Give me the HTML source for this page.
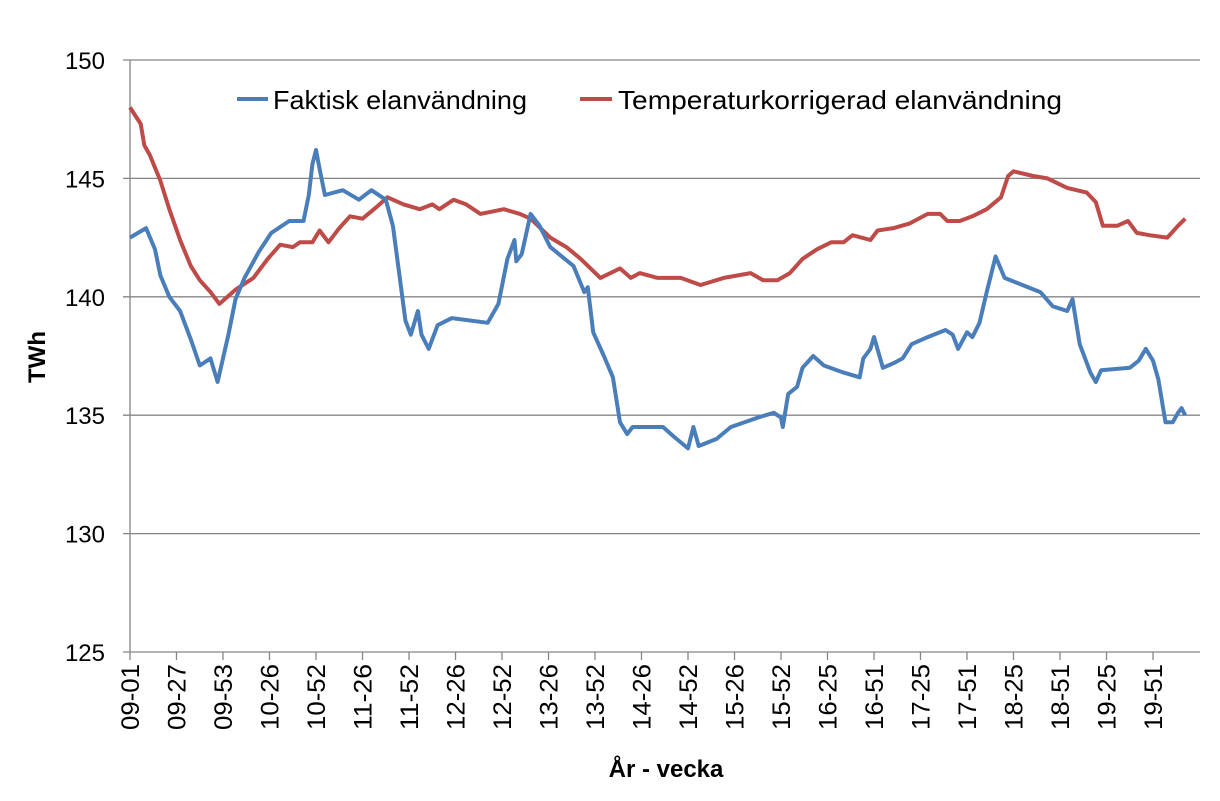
<!DOCTYPE html>
<html><head><meta charset="utf-8"><style>
body{margin:0;background:#fff;}
svg text{font-family:"Liberation Sans",sans-serif;fill:#000;}
</style></head><body>
<svg id="chart" width="1220" height="796" viewBox="0 0 1220 796" xmlns="http://www.w3.org/2000/svg">
<g id="grid"></g>
<g id="yaxis"></g>
<g id="xaxis"></g>
<g id="series"></g>
<text x="0" y="0" transform="translate(45,357) rotate(-90)" text-anchor="middle" font-size="24" font-weight="bold">TWh</text>
<text x="666" y="777" text-anchor="middle" font-size="24" font-weight="bold">År - vecka</text>
<g>
<line x1="237" y1="99" x2="268" y2="99" stroke="#4a7ebb" stroke-width="4"/>
<text x="273" y="109" font-size="26" textLength="254" lengthAdjust="spacingAndGlyphs">Faktisk elanvändning</text>
<line x1="580" y1="99" x2="612" y2="99" stroke="#be4b48" stroke-width="4"/>
<text x="618" y="109" font-size="26" textLength="444" lengthAdjust="spacingAndGlyphs">Temperaturkorrigerad elanvändning</text>
</g>
</svg>
<script>
const yTicks=[125,130,135,140,145,150];
const xTickLabels=["09-01","09-27","09-53","10-26","10-52","11-26","11-52","12-26","12-52","13-26","13-52","14-26","14-52","15-26","15-52","16-25","16-51","17-25","17-51","18-25","18-51","19-25","19-51"];
const faktiskWeeks=[0,9,14,17,22,28,34,39,45,49,55,59,64,72,79,89,97,100,102,104,106,109,119,128,135,143,147,151,154,157,161,163,167,172,180,200,206,211,215,216,219,224,229,235,248,254,256,259,265,270,274,278,281,298,304,312,315,318,328,336,351,360,364,365,368,373,376,382,388,399,408,410,414,416,421,427,432,437,446,456,460,463,468,471,475,479,484,489,499,509,516,524,527,531,537,540,543,559,564,568,572,575,579,583,586,588,590];
const faktiskValues=[142.5,142.9,142.0,140.9,140.0,139.4,138.2,137.1,137.4,136.4,138.4,139.9,140.8,141.9,142.7,143.2,143.2,144.3,145.6,146.2,145.4,144.3,144.5,144.1,144.5,144.1,143.0,140.7,139.0,138.4,139.4,138.4,137.8,138.8,139.1,138.9,139.7,141.6,142.4,141.5,141.8,143.5,143.0,142.1,141.3,140.2,140.4,138.5,137.5,136.6,134.7,134.2,134.5,134.5,134.1,133.6,134.5,133.7,134.0,134.5,134.9,135.1,134.9,134.5,135.9,136.2,137.0,137.5,137.1,136.8,136.6,137.4,137.8,138.3,137.0,137.2,137.4,138.0,138.3,138.6,138.4,137.8,138.5,138.3,138.9,140.2,141.7,140.8,140.5,140.2,139.6,139.4,139.9,138.0,136.8,136.4,136.9,137.0,137.3,137.8,137.3,136.5,134.7,134.7,135.1,135.3,135.0];
const tempWeeks=[0,6,8,11,17,22,28,34,39,45,50,59,69,77,84,91,95,102,106,111,117,123,130,138,144,153,162,169,173,181,188,196,209,218,224,235,244,252,263,274,280,285,295,308,319,332,347,354,362,369,376,384,392,399,404,414,418,427,436,446,453,457,464,471,479,487,491,494,505,513,524,535,540,544,552,558,563,570,580,586,590];
const tempValues=[148.0,147.3,146.4,146.0,144.9,143.7,142.4,141.3,140.7,140.2,139.7,140.3,140.8,141.6,142.2,142.1,142.3,142.3,142.8,142.3,142.9,143.4,143.3,143.8,144.2,143.9,143.7,143.9,143.7,144.1,143.9,143.5,143.7,143.5,143.3,142.5,142.1,141.6,140.8,141.2,140.8,141.0,140.8,140.8,140.5,140.8,141.0,140.7,140.7,141.0,141.6,142.0,142.3,142.3,142.6,142.4,142.8,142.9,143.1,143.5,143.5,143.2,143.2,143.4,143.7,144.2,145.1,145.3,145.1,145.0,144.6,144.4,144.0,143.0,143.0,143.2,142.7,142.6,142.5,143.0,143.3];

const X0=130,X1=1200,Y0=60,Y1=652,WEEK_PX=46.5/26,TICK_STEP=26;
const xs=w=>X0+w*WEEK_PX;
const ys=v=>Y1-(v-125)/(150-125)*(Y1-Y0);
const NS="http://www.w3.org/2000/svg";
const mk=(t,a,p)=>{const e=document.createElementNS(NS,t);for(const k in a)e.setAttribute(k,a[k]);p.appendChild(e);return e;};
const grid=document.getElementById('grid'),yax=document.getElementById('yaxis'),xax=document.getElementById('xaxis'),ser=document.getElementById('series');
yTicks.forEach(v=>{
  const y=ys(v);
  const l=mk('line',{x1:X0-7,y1:y,x2:X1,y2:y,stroke:'#868686','stroke-width':1.3},v===125?xax:grid);
  
  
  const t=mk('text',{x:105,y:y+9,'text-anchor':'end','font-size':24},yax);
  t.textContent=v;
  
  
});
const ya=mk('line',{x1:X0,y1:Y0,x2:X0,y2:Y1,stroke:'#868686','stroke-width':1.3},yax);


xTickLabels.forEach((s,i)=>{
  const x=xs(i*TICK_STEP);
  const tk=mk('line',{x1:x,y1:Y1,x2:x,y2:Y1+8,stroke:'#868686','stroke-width':1.3},xax);
  
  
  const t=mk('text',{x:0,y:0,'text-anchor':'end','font-size':25,textLength:66,lengthAdjust:'spacingAndGlyphs',transform:`translate(${x+9},${Y1+12}) rotate(-90)`},xax);
  t.textContent=s;
  
  
});
function line(w,v,c,name){
  const d=w.map((wk,i)=>(i?'L':'M')+xs(wk).toFixed(1)+','+ys(v[i]).toFixed(1)).join(' ');
  const p=mk('path',{d:d,fill:'none',stroke:c,'stroke-width':4,'stroke-linejoin':'round'},ser);
  
  
}
line(tempWeeks,tempValues,'#be4b48','temperaturkorrigerad-line');
line(faktiskWeeks,faktiskValues,'#4a7ebb','faktisk-line');
</script>
</body></html>
